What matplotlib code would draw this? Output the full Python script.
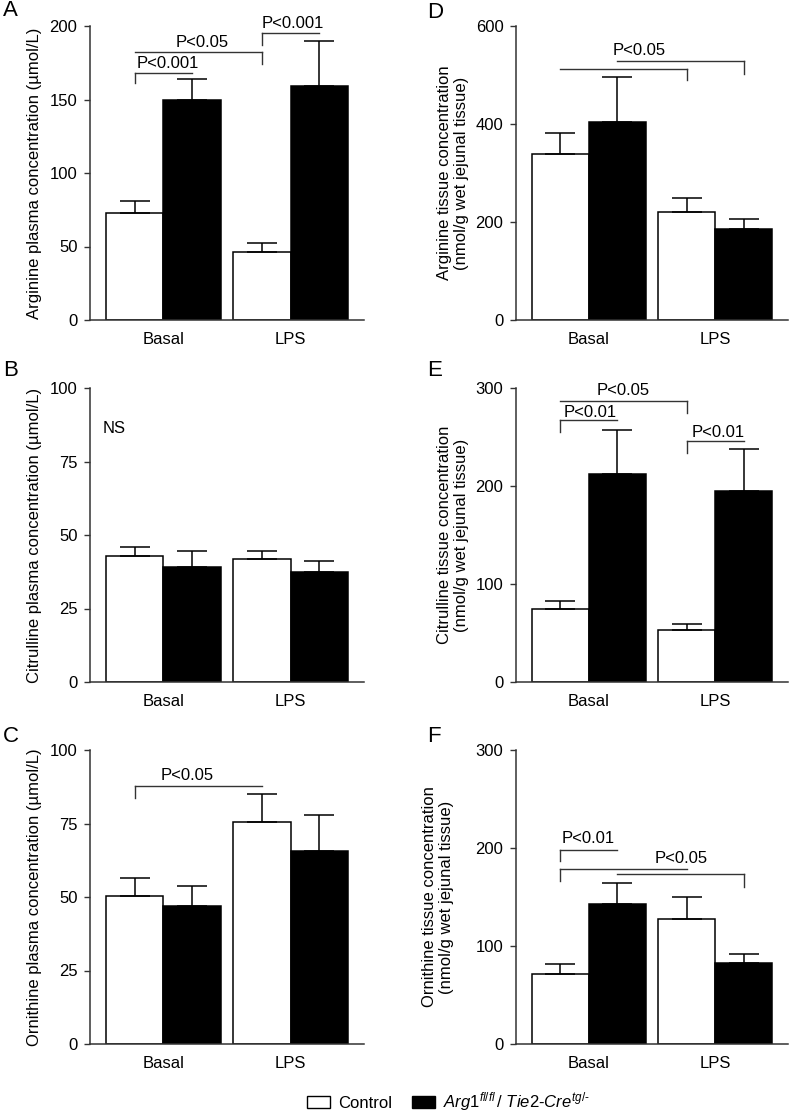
import numpy as np
import matplotlib.pyplot as plt
from matplotlib.patches import Patch

plt.rcParams['font.family'] = ['Liberation Sans', 'DejaVu Sans']
plt.rcParams['mathtext.fontset'] = 'custom'
plt.rcParams['mathtext.rm'] = 'Liberation Sans'
plt.rcParams['mathtext.it'] = 'Liberation Sans:italic'

groups = ["Basal", "LPS"]

# mean / SEM for control and Arg1fl/fl / Tie2-Cre mice (Basal, LPS)
arg_plasma_ctrl, arg_plasma_ctrl_err = [73, 46], [8, 6.5]
arg_plasma_ko, arg_plasma_ko_err = [150, 159], [14, 31]

cit_plasma_ctrl, cit_plasma_ctrl_err = [43, 42], [3, 2.6]
cit_plasma_ko, cit_plasma_ko_err = [39, 37.4], [5.7, 3.8]

orn_plasma_ctrl, orn_plasma_ctrl_err = [50.5, 75.5], [5.8, 9.5]
orn_plasma_ko, orn_plasma_ko_err = [47, 65.8], [6.8, 12.1]

arg_tissue_ctrl, arg_tissue_ctrl_err = [339, 221], [42, 29]
arg_tissue_ko, arg_tissue_ko_err = [405, 185], [90, 22]

cit_tissue_ctrl, cit_tissue_ctrl_err = [75, 53.5], [7.8, 5.8]
cit_tissue_ko, cit_tissue_ko_err = [212, 195], [45, 42.6]

orn_tissue_ctrl, orn_tissue_ctrl_err = [71, 127.5], [10.5, 22]
orn_tissue_ko, orn_tissue_ko_err = [142.7, 82.4], [21.8, 9.8]

# significance brackets: (bar from, bar to, line y, left leg end, right leg end)
# bars: 0 ctrl basal, 1 ko basal, 2 ctrl LPS, 3 ko LPS
# labels: (x, baseline y, text)
brk_A = [(0, 1, 168, 161, None), (0, 2, 182, None, 174), (2, 3, 195.5, 187, None)]
lab_A = [(1.36, 171.6, "P<0.001"), (1.95, 185.5, "P<0.05"), (3.53, 198.5, "P<0.001")]
brk_B, lab_B = [], [(0.42, 84.7, "NS")]
brk_C = [(0, 2, 87.8, 83.6, None)]
lab_C = [(1.7, 89.9, "P<0.05")]
brk_D = [(0, 2, 512.6, None, 489), (1, 3, 528, None, 502)]
lab_D = [(2.16, 541, "P<0.05")]
brk_E = [(0, 1, 267.3, 255.4, None), (0, 2, 287, None, 274.5), (2, 3, 245.5, 234, None)]
lab_E = [(1.30, 270.7, "P<0.01"), (1.88, 292.9, "P<0.05"), (3.56, 249.6, "P<0.01")]
brk_F = [(0, 1, 198.4, 186.5, None), (0, 2, 178.7, 166.8, None), (1, 3, 173.6, None, 160)]
lab_F = [(1.26, 204.8, "P<0.01"), (2.91, 184.4, "P<0.05")]

W, H = 792, 1113
fig = plt.figure(figsize=(W / 100, H / 100), dpi=100)

DARK = '#333333'
FS = 12
centers = np.array([0.78, 1.78, 3.0, 4.0])


def panel(rect, ctrl, ctrl_err, ko, ko_err, ymax, ystep, ylabel, lab_x, brk, labs):
    l, r, t, b = rect
    ax = fig.add_axes([l / W, 1 - b / H, (r - l) / W, (b - t) / H])
    pc, pk = centers[[0, 2]], centers[[1, 3]]
    ax.bar(pc, ctrl, width=1, color='white', edgecolor='black', linewidth=1.1, zorder=2)
    ax.bar(pk, ko, width=1, color='black', edgecolor='black', linewidth=1.1, zorder=2)
    ax.errorbar(pc, ctrl, yerr=[np.zeros(2), ctrl_err], fmt='none', ecolor='black',
                elinewidth=1.1, capsize=11, capthick=1.1, zorder=3)
    ax.errorbar(pk, ko, yerr=[np.zeros(2), ko_err], fmt='none', ecolor='black',
                elinewidth=1.1, capsize=11, capthick=1.1, zorder=3)
    ax.set_xlim(0, 4.78)
    ax.set_ylim(0, ymax)
    ax.set_yticks(np.arange(0, ymax + 1, ystep))
    ax.set_xticks([1.28, 3.5])
    ax.set_xticklabels(groups)
    ax.tick_params(axis='x', length=0, pad=9, labelsize=FS)
    ax.tick_params(axis='y', length=4, width=1, color=DARK, pad=5, labelsize=FS)
    for s in ['top', 'right']:
        ax.spines[s].set_visible(False)
    for s in ['left', 'bottom']:
        ax.spines[s].set_color(DARK)
        ax.spines[s].set_linewidth(1.1)
    ax.set_ylabel(ylabel, fontsize=FS)
    ax.yaxis.set_label_coords(lab_x, 0.5)
    for i, j, y, legl, legr in brk:
        ax.plot([centers[i], centers[j]], [y, y], color=DARK, lw=1, clip_on=False)
        if legl is not None:
            ax.plot([centers[i]] * 2, [y, legl], color=DARK, lw=1, clip_on=False)
        if legr is not None:
            ax.plot([centers[j]] * 2, [y, legr], color=DARK, lw=1, clip_on=False)
    for x, y, s in labs:
        ax.text(x, y, s, ha='center', va='baseline', fontsize=FS)
    return ax


umol = "(\u00b5mol/L)"
tis = "(nmol/g wet jejunal tissue)"
panel((90, 364, 26, 320), arg_plasma_ctrl, arg_plasma_ctrl_err, arg_plasma_ko, arg_plasma_ko_err,
      200, 50, "Arginine plasma concentration " + umol, -0.175, brk_A, lab_A)
panel((90, 364, 388, 682), cit_plasma_ctrl, cit_plasma_ctrl_err, cit_plasma_ko, cit_plasma_ko_err,
      100, 25, "Citrulline plasma concentration " + umol, -0.175, brk_B, lab_B)
panel((90, 364, 750, 1044), orn_plasma_ctrl, orn_plasma_ctrl_err, orn_plasma_ko, orn_plasma_ko_err,
      100, 25, "Ornithine plasma concentration " + umol, -0.175, brk_C, lab_C)
panel((516, 788, 26, 320), arg_tissue_ctrl, arg_tissue_ctrl_err, arg_tissue_ko, arg_tissue_ko_err,
      600, 200, "Arginine tissue concentration\n" + tis, -0.173, brk_D, lab_D)
panel((516, 788, 388, 682), cit_tissue_ctrl, cit_tissue_ctrl_err, cit_tissue_ko, cit_tissue_ko_err,
      300, 100, "Citrulline tissue concentration\n" + tis, -0.173, brk_E, lab_E)
panel((516, 788, 750, 1044), orn_tissue_ctrl, orn_tissue_ctrl_err, orn_tissue_ko, orn_tissue_ko_err,
      300, 100, "Ornithine tissue concentration\n" + tis, -0.228, brk_F, lab_F)

for s, x, y in [("A", 3, 0), ("B", 3, 360), ("C", 3, 726), ("D", 427, 2), ("E", 427, 360), ("F", 427, 726)]:
    fig.text(x / W, 1 - y / H, s, fontsize=16, va='top', ha='left')

handles = [Patch(facecolor='white', edgecolor='black', linewidth=1),
           Patch(facecolor='black', edgecolor='black', linewidth=1)]
labels = ["Control", r"$\mathit{Arg1}^{\mathit{fl/fl}}\mathit{\,/\ Tie2}\text{-}\mathit{Cre}^{\mathit{tg/}\text{-}}$"]
fig.legend(handles, labels, loc='center left', bbox_to_anchor=(307 / W, 1 - 1102 / H), ncol=2,
           frameon=False, fontsize=FS, handlelength=1.38, handleheight=0.66, handletextpad=0.48,
           columnspacing=1.2, borderpad=0, borderaxespad=0)

fig.savefig("out.png", dpi=100)
